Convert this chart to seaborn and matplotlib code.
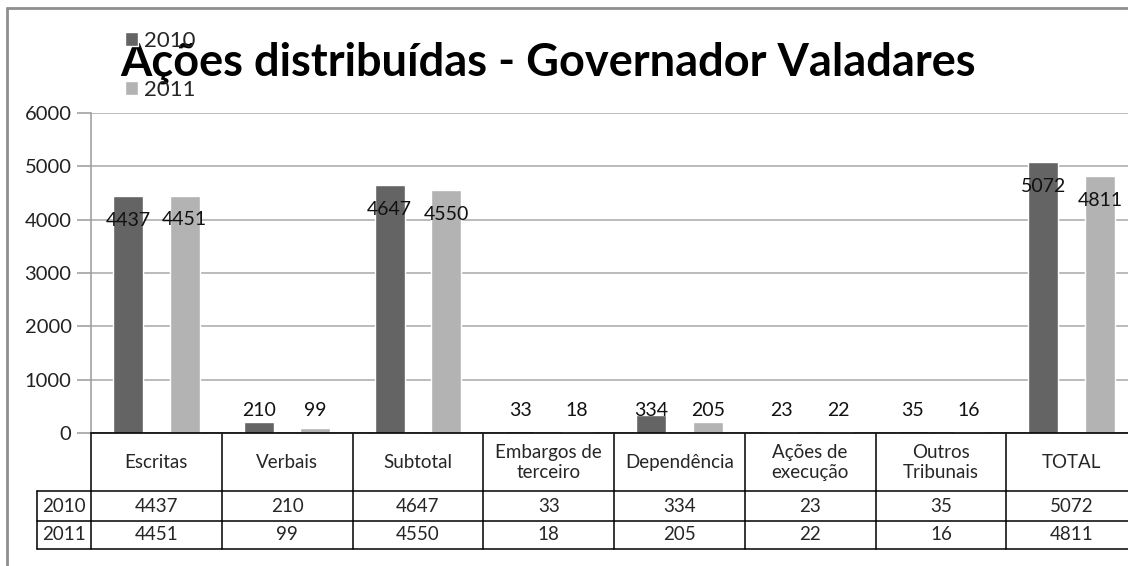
import numpy as np
import pandas as pd
import matplotlib
matplotlib.use('Agg')
import matplotlib.pyplot as plt
import seaborn as sns

# dados do gráfico
categorias = ['Escritas', 'Verbais', 'Subtotal', 'Embargos de\nterceiro', 'Dependência',
              'Ações de\nexecução', 'Outros\nTribunais', 'TOTAL']
anos = ['2010', '2011']
v2010 = [4437, 210, 4647, 33, 334, 23, 35, 5072]
v2011 = [4451, 99, 4550, 18, 205, 22, 16, 4811]
cores = ['#646464', '#b3b3b3']
titulo = 'Ações distribuídas - Governador Valadares'

sns.set_style('white')
plt.rcParams['font.family'] = ['Lato', 'DejaVu Sans']

df = pd.DataFrame({
    'categoria': categorias * 2,
    'ano': [anos[0]] * len(categorias) + [anos[1]] * len(categorias),
    'valor': v2010 + v2011,
})

W, H = 1128, 566
fig = plt.figure(figsize=(W / 100, H / 100), dpi=100)

# eixo principal (px -> fração da figura)
x0, x1 = 91, 1137
y_top, y_zero = 113, 433
ax = fig.add_axes([x0 / W, 1 - y_zero / H, (x1 - x0) / W, (y_zero - y_top) / H])

sns.barplot(data=df, x='categoria', y='valor', hue='ano', palette=cores,
            width=0.865, gap=0.47, ax=ax, legend=True)

ax.set_xlim(-0.5, 7.5)
ax.set_ylim(0, 6000)
ax.set_yticks(range(0, 6001, 1000))
ax.set_xlabel('')
ax.set_ylabel('')
ax.set_xticks([])
ax.yaxis.grid(True, color='#a8a8a8', linewidth=1.1)
ax.set_axisbelow(True)
for s in ['top', 'right']:
    ax.spines[s].set_visible(False)
ax.spines['left'].set_color('#9a9a9a')
ax.spines['left'].set_linewidth(1.1)
ax.spines['bottom'].set_color('black')
ax.spines['bottom'].set_linewidth(1.2)
ax.tick_params(axis='y', direction='out', length=10, color='#9a9a9a', width=1.1,
               labelsize=14.5, labelcolor='#222222', left=True, pad=4)

# rótulos dos valores
for cont, vals in zip(ax.containers, [v2010, v2011]):
    for bar, v in zip(cont, vals):
        xc = bar.get_x() + bar.get_width() / 2
        yc = max(bar.get_height() - 455, 420)
        ax.text(xc, yc, str(v), ha='center', va='center', fontsize=14, color='#111111')

# legenda
handles, labels = ax.get_legend_handles_labels()
ax.get_legend().remove()
fig.legend(handles, labels, loc='upper left', bbox_to_anchor=(125 / W, 1 - 31 / H),
           frameon=False, fontsize=16, handlelength=0.6, handleheight=0.6,
           handletextpad=0.25, labelspacing=1.3, borderpad=0, borderaxespad=0)

# título
fig.text(548 / W, 1 - 75 / H, titulo, ha='center', va='baseline',
         fontsize=32.5, fontweight='bold', color='black')

# tabela de dados
t_top, t_bot = 434, 549
tab = fig.add_axes([x0 / W, 1 - t_bot / H, (x1 - x0) / W, (t_bot - t_top) / H])
tab.set_xlim(-0.5, 7.5)
tab.set_ylim(t_bot - t_top, 0)
tab.axis('off')
xl = -0.5 - (x0 - 37) / ((x1 - x0) / 8)
r1, r2, r3 = 57, 87, 115
for yy in [r1, r2, r3]:
    tab.plot([xl, 7.5], [yy, yy], color='black', lw=1.1, clip_on=False)
for k in range(9):
    tab.plot([k - 0.5, k - 0.5], [0, r3], color='black', lw=1.1, clip_on=False)
tab.plot([xl, xl], [r1, r3], color='black', lw=1.1, clip_on=False)

fs_tab = 13.5
for i, cat in enumerate(categorias):
    tab.text(i, r1 / 2, cat, ha='center', va='center', fontsize=fs_tab, linespacing=1.25)
    tab.text(i, (r1 + r2) / 2, str(v2010[i]), ha='center', va='center', fontsize=fs_tab)
    tab.text(i, (r2 + r3) / 2, str(v2011[i]), ha='center', va='center', fontsize=fs_tab)
tab.text((xl - 0.5) / 2, (r1 + r2) / 2, anos[0], ha='center', va='center', fontsize=fs_tab)
tab.text((xl - 0.5) / 2, (r2 + r3) / 2, anos[1], ha='center', va='center', fontsize=fs_tab)

# moldura
fig.add_artist(plt.Line2D([7 / W, 1], [1 - 8 / H, 1 - 8 / H], color='#8f8f8f', lw=2,
                          transform=fig.transFigure))
fig.add_artist(plt.Line2D([7 / W, 7 / W], [0, 1 - 8 / H], color='#8f8f8f', lw=2,
                          transform=fig.transFigure))

fig.savefig('out.png', dpi=100)
